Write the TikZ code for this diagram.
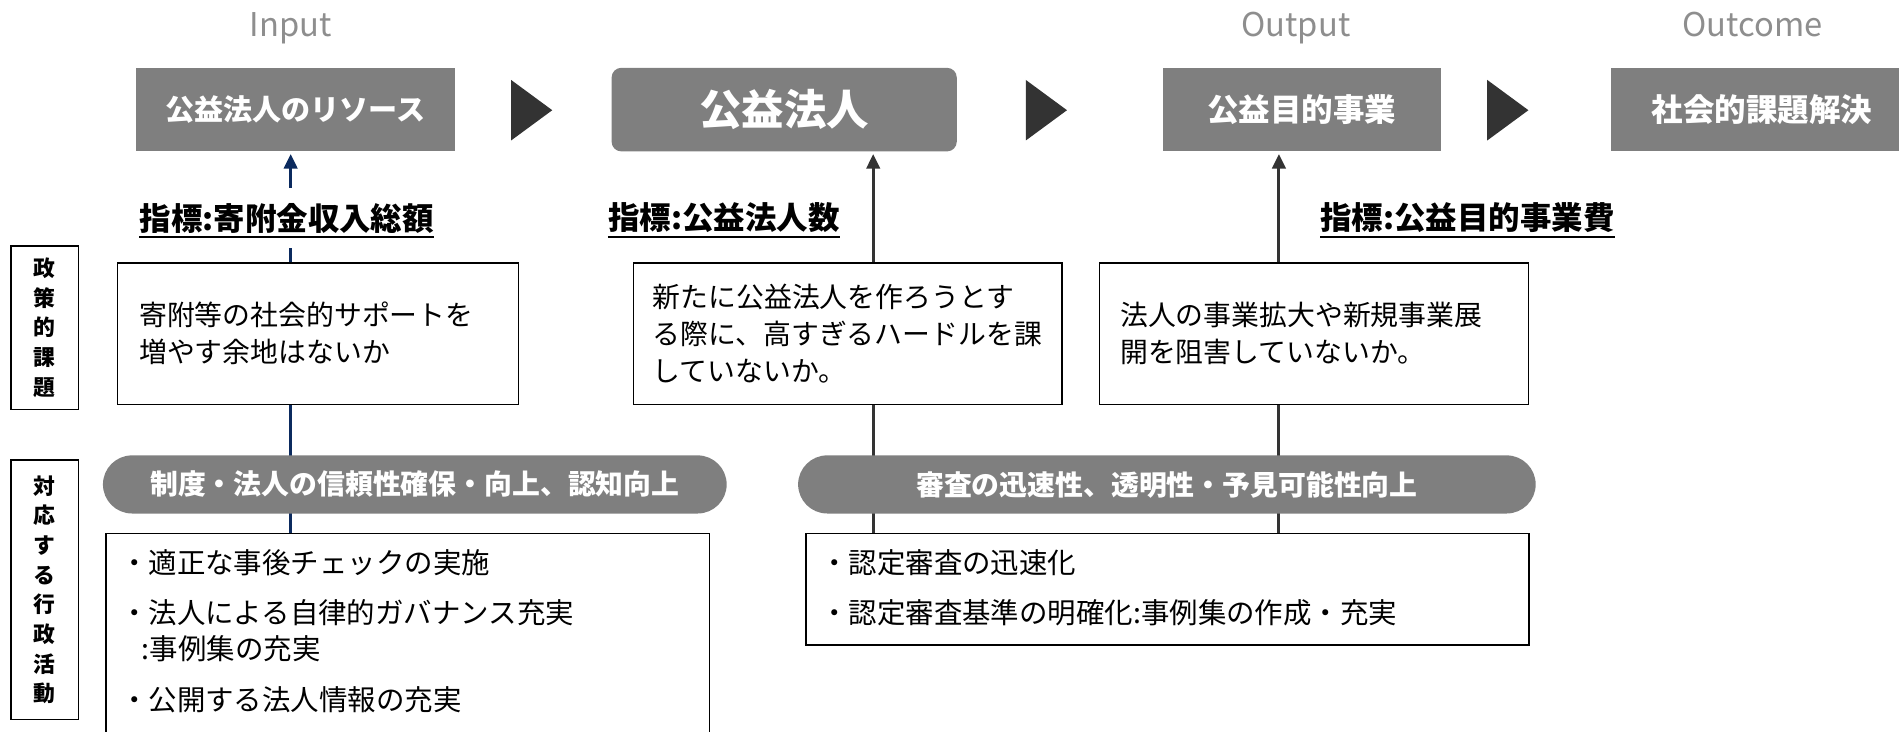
\documentclass[tikz,border=0pt]{standalone}
\usepackage{fontspec}
\setmainfont{Noto Sans CJK JP}
\usetikzlibrary{arrows.meta}
\definecolor{boxgray}{HTML}{7F7F7F}
\definecolor{tridark}{HTML}{333333}
\definecolor{linenavy}{HTML}{0B2A5E}
\definecolor{stagegray}{HTML}{8E8E8E}
\pgfdeclarelayer{back}
\pgfsetlayers{back,main}
\tikzset{
  stage/.style={text=stagegray, font=\fontsize{27}{30}\selectfont},
  head/.style={fill=boxgray, text=white, minimum height=69pt, font=\bfseries\fontsize{26}{30}\selectfont},
  indicator/.style={anchor=west, fill=white, inner xsep=0pt, inner ysep=12pt, font=\bfseries\fontsize{26}{30}\selectfont},
  issue/.style={draw, line width=1.2pt, fill=white, minimum height=117pt, align=left, font=\fontsize{23}{30.5}\selectfont},
  pill/.style={fill=boxgray, text=white, rounded corners=24pt, minimum height=48pt, font=\bfseries\fontsize{23}{28}\selectfont},
  actbox/.style={draw, line width=1.2pt, fill=white, anchor=north west},
  actitem/.style={anchor=west, align=left, inner sep=0pt, font=\fontsize{23.5}{30}\selectfont},
  side/.style={draw, line width=1.2pt, minimum width=56pt, align=center, font=\bfseries\fontsize{18}{24.5}\selectfont},
  link/.style={line width=2.5pt}
}
\begin{document}
\begin{tikzpicture}[x=1pt,y=-1pt]
\useasboundingbox (0,0) rectangle (1568,604);
%\draw[step=50,gray,very thin] (0,0) grid (1568,604);
\node[stage, anchor=base] (input) at (240,30) {Input};
\node[stage, anchor=base] (output) at (1070,30) {Output};
\node[stage, anchor=base] (outcome) at (1447,30) {Outcome};

\node[head, minimum width=264pt, font=\bfseries\fontsize{24}{28}\selectfont] (res) at (244,90.5) {公益法人のリソース};
\node[head, rounded corners=8pt, minimum width=285pt, font=\bfseries\fontsize{35}{40}\selectfont] (hojin) at (647.5,90.5) {公益法人};
\node[head, minimum width=230pt] (jigyo) at (1075,90.5) {公益目的事業};
\node[head, minimum width=250pt] (kaiketsu) at (1455,90.5) {社会的課題解決};
\fill[tridark] (422,66) -- (456,91) -- (422,116) -- cycle;
\fill[tridark] (847,66) -- (881,91) -- (847,116) -- cycle;
\fill[tridark] (1228,66) -- (1262,91) -- (1228,116) -- cycle;

\node[indicator] (ind1) at (115,180) {指標:寄附金収入総額};
\node[indicator] (ind2) at (502,180) {指標:公益法人数};
\node[indicator] (ind3) at (1090,180) {指標:公益目的事業費};
\draw[line width=1.3pt] ([yshift=-6pt]ind1.base west) -- ([yshift=-6pt]ind1.base east);
\draw[line width=1.3pt] ([yshift=-6pt]ind2.base west) -- ([yshift=-6pt]ind2.base east);
\draw[line width=1.3pt] ([yshift=-6pt]ind3.base west) -- ([yshift=-6pt]ind3.base east);

\node[side, minimum height=135pt] (kadai) at (37,270.5) {政\\策\\的\\課\\題};
\node[side, minimum height=214pt] (katsudo) at (37,487) {対\\応\\す\\る\\行\\政\\活\\動};

\node[issue, inner xsep=18pt, text width=295pt] (pol1) at (262.5,275.5) {寄附等の社会的サポートを\\増やす余地はないか};
\node[issue, inner xsep=16pt, text width=322pt] (pol2) at (700,275.5) {新たに公益法人を作ろうとす\\る際に、高すぎるハードルを課\\していないか。};
\node[issue, inner xsep=17pt, text width=320pt] (pol3) at (1085,275.5) {法人の事業拡大や新規事業展\\開を阻害していないか。};

\node[pill, minimum width=515pt] (meas1) at (342.5,400) {制度・法人の信頼性確保・向上、認知向上};
\node[pill, minimum width=609pt] (meas2) at (963.5,400) {審査の迅速性、透明性・予見可能性向上};

\node[actbox, minimum width=498pt, minimum height=180pt] (act1) at (87,440) {};
\node[actbox, minimum width=597pt, minimum height=92pt] (act2) at (665,440) {};
\node[actitem] (a1) at (99,465) {・適正な事後チェックの実施};
\node[actitem] (a2) at (99,521) {・法人による自律的ガバナンス充実\\\hspace*{18pt}:事例集の充実};
\node[actitem] (a3) at (99,578) {・公開する法人情報の充実};
\node[actitem] (b1) at (677,465) {・認定審査の迅速化};
\node[actitem] (b2) at (677,506) {・認定審査基準の明確化:事例集の作成・充実};

% arrows behind the boxes
\coordinate (c1) at (240,0);
\coordinate (c2) at (721,0);
\coordinate (c3) at (1056,0);
\begin{pgfonlayer}{back}
\draw[link, linenavy, -{Triangle[length=12pt,width=11pt]}, shorten >=2pt] (pol1.north -| c1) -- (res.south -| c1);
\draw[link, tridark, -{Triangle[length=12pt,width=11pt]}, shorten >=2pt] (pol2.north -| c2) -- (hojin.south -| c2);
\draw[link, tridark, -{Triangle[length=12pt,width=11pt]}, shorten >=2pt] (pol3.north -| c3) -- (jigyo.south -| c3);
\draw[link, linenavy] (act1.north -| c1) -- (pol1.south -| c1);
\draw[link, tridark] (act2.north -| c2) -- (pol2.south -| c2);
\draw[link, tridark] (act2.north -| c3) -- (pol3.south -| c3);
\end{pgfonlayer}
\end{tikzpicture}
\end{document}
